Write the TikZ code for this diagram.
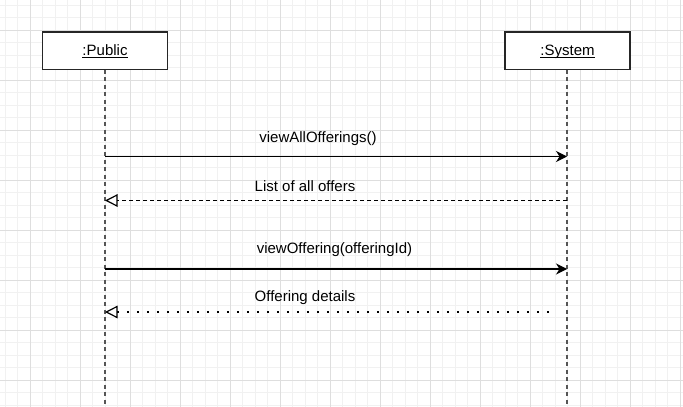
\documentclass[tikz,border=0pt]{standalone}
\usepackage{fontspec}
\setmainfont{Liberation Sans}
\usetikzlibrary{arrows.meta}
\definecolor{gminor}{HTML}{F1F1F1}
\definecolor{gmajor}{HTML}{DEDEDE}
\definecolor{lline}{HTML}{555555}
\newcommand{\ulname}[1]{\underline{\smash{#1}}}
\tikzset{
  minorgrid/.style={draw=gminor, line width=0.8pt},
  majorgrid/.style={draw=gmajor, line width=0.9pt},
  actor/.style={draw=black!85, line width=1.3pt, fill=white, minimum width=125pt, minimum height=37.5pt, inner sep=0pt},
  actorname/.style={inner sep=0pt, anchor=base, font=\fontsize{15}{18}\selectfont},
  lifeline/.style={draw=lline, line width=1.4pt, dash pattern=on 4pt off 3.5pt},
  lbl/.style={inner sep=0pt, font=\fontsize{15}{18}\selectfont},
  callmsg/.style={draw=black, line width=1.2pt, -{Stealth[length=11pt, width=11pt, inset=3.5pt]}},
  retmsg/.style={draw=black, line width=1.2pt, dash pattern=on 4pt off 3pt, -{Triangle[open, length=12.5pt, width=12.5pt, fill=white]}},
  dotmsg/.style={draw=black, line width=2pt, dash pattern=on 2pt off 8pt, -{Triangle[open, length=12.5pt, width=12.5pt, fill=white, line width=1.2pt]}}
}
\begin{document}
\begin{tikzpicture}[x=1pt, y=-1pt]
\useasboundingbox (0,0) rectangle (683,407);
\fill[white] (0,0) rectangle (683,407);
% grid
\foreach \i in {0,...,54} {
  \draw[minorgrid] ({5+12.5*\i},0) -- ({5+12.5*\i},407);
}
\foreach \i in {0,...,32} {
  \draw[minorgrid] (0,{5+12.5*\i}) -- (683,{5+12.5*\i});
}
\foreach \i in {0,...,13} {
  \draw[majorgrid] ({30+50*\i},0) -- ({30+50*\i},407);
}
\foreach \i in {0,...,7} {
  \draw[majorgrid] (0,{30+50*\i}) -- (683,{30+50*\i});
}
% actors
\node[actor] (pub) at (105,50.75) {};
\node[actor] (sys) at (567.5,50.75) {};
\node[actorname] (pubname) at (105,55.3) {\ulname{:Public}};
\node[actorname] (sysname) at (567.5,55.3) {\ulname{:System}};
% lifeline ends
\coordinate (pubtop) at (105,69.5);
\coordinate (systop) at (567,69.5);
\coordinate (pubend) at (105,408);
\coordinate (sysend) at (567,408);
\draw[lifeline] (pubtop) -- (pubend);
\draw[lifeline] (systop) -- (sysend);
% message anchor points
\coordinate (p1) at (105,156.5);
\coordinate (s1) at (567,156.5);
\coordinate (p2) at (105,200.5);
\coordinate (s2) at (567,200.5);
\coordinate (p3) at (105,269);
\coordinate (s3) at (567,269);
\coordinate (p4) at (105,312);
\coordinate (s4) at (549,312);
% messages
\draw[callmsg] (p1) -- (s1);
\draw[retmsg] (s2) -- (p2);
\draw[callmsg] (p3) -- (s3);
\draw[dotmsg] (s4) -- (p4);
% labels
\node[lbl] (l1) at (318,138.5) {viewAllOfferings()};
\node[lbl] (l2) at (305,186) {List of all offers};
\node[lbl] (l3) at (334.5,250) {viewOffering(offeringId)};
\node[lbl] (l4) at (305,297.5) {Offering details};
\end{tikzpicture}
\end{document}
